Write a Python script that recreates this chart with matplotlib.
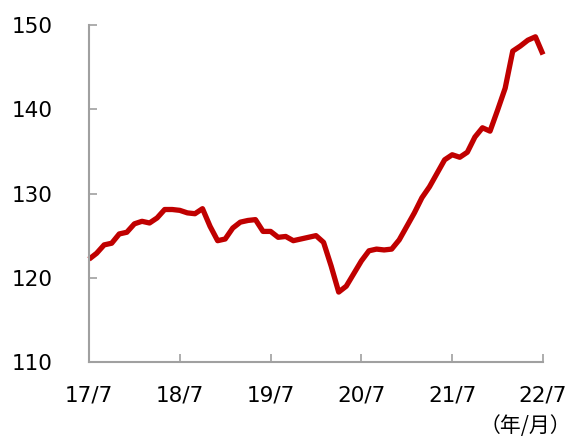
import matplotlib
matplotlib.use("Agg")
import matplotlib.pyplot as plt
import numpy as np

plt.rcParams['font.family'] = ['DejaVu Sans', 'Noto Sans CJK JP']

# Monthly index values, 2017/07 .. 2022/07
values = [122.2, 122.9, 123.9, 124.1, 125.2, 125.4, 126.4, 126.7, 126.5, 127.1,
          128.1, 128.1, 128.0, 127.7, 127.6, 128.2, 126.1, 124.4, 124.6, 125.9,
          126.6, 126.8, 126.9, 125.5, 125.5, 124.8, 124.9, 124.4, 124.6, 124.8,
          125.0, 124.2, 121.4, 118.3, 119.0, 120.5, 122.0, 123.2, 123.4, 123.3,
          123.4, 124.5, 126.1, 127.7, 129.5, 130.8, 132.4, 134.0, 134.6, 134.3,
          134.9, 136.7, 137.8, 137.4, 139.9, 142.5, 146.9, 147.5, 148.2, 148.6,
          146.5]
tick_labels = ['17/7', '18/7', '19/7', '20/7', '21/7', '22/7']
y_ticks = [110, 120, 130, 140, 150]
unit_label = '（年/月）'

fig = plt.figure(figsize=(5.72, 4.42), dpi=100)
ax = fig.add_axes([89/572, 80/442, (543-89)/572, (362-25)/442])

x = np.arange(len(values))
ax.plot(x, values, color='#C00000', linewidth=3.8, solid_joinstyle='round',
        solid_capstyle='butt', clip_on=False)

ax.set_xlim(0, len(values) - 1)
ax.set_ylim(110, 150)
ax.set_xticks(np.arange(0, len(values), 12))
ax.set_xticklabels(tick_labels)
ax.set_yticks(y_ticks)

for s in ['top', 'right']:
    ax.spines[s].set_visible(False)
for s in ['left', 'bottom']:
    ax.spines[s].set_color('#A0A0A0')
    ax.spines[s].set_linewidth(1.5)

ax.tick_params(axis='both', direction='in', length=6, width=1.2, color='#A0A0A0',
               labelsize=15.5, labelcolor='#000000')
ax.tick_params(axis='y', pad=26)
ax.tick_params(axis='x', pad=17)

fig.text(0.999, 1 - 426/442, unit_label, ha='right', va='center', fontsize=15,
         family=['Noto Sans CJK JP', 'DejaVu Sans'])

fig.savefig('out.png', dpi=100)
